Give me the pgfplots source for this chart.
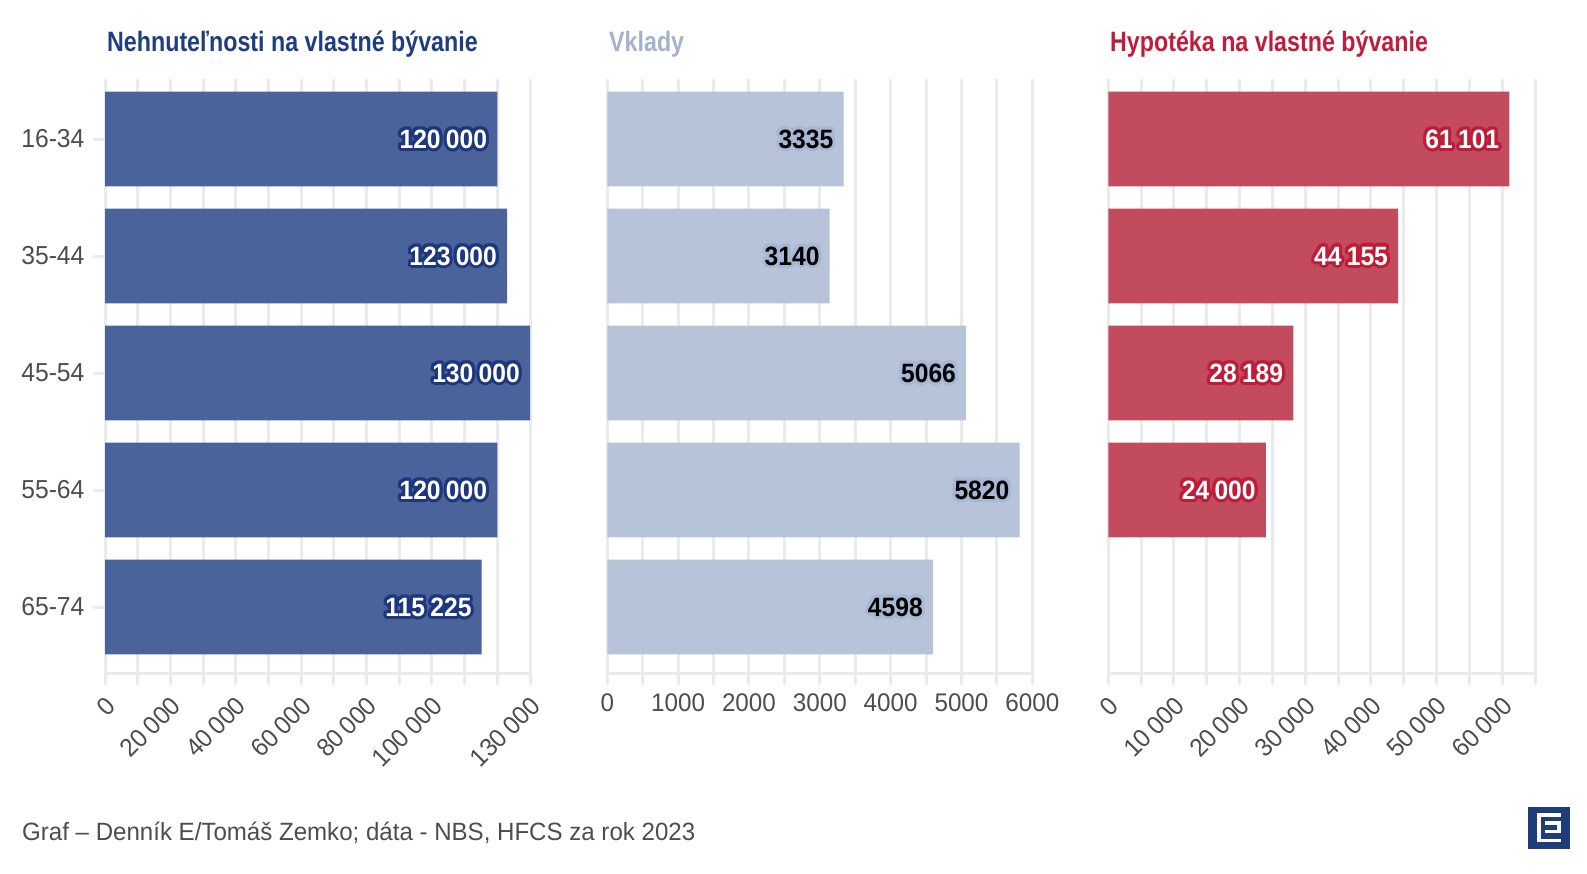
\documentclass[border=0pt]{standalone}
\usepackage{pgfplots}
\pgfplotsset{compat=1.18}
\usepackage{pgfplotstable}
\usepackage{fontspec}
\setmainfont[FakeStretch=0.95]{Liberation Sans}
\newfontfamily\footfont[FakeStretch=0.963]{Liberation Sans}
\newfontfamily\condfont[FakeStretch=0.83]{Liberation Sans}
\newfontfamily\valfontfam[FakeStretch=0.93]{Liberation Sans}

\definecolor{barA}{RGB}{74,99,154}
\definecolor{titleA}{RGB}{31,62,130}
\definecolor{haloA}{RGB}{28,55,125}
\definecolor{barB}{RGB}{183,195,216}
\definecolor{titleB}{RGB}{163,178,207}
\definecolor{haloB}{RGB}{168,183,212}
\definecolor{barC}{RGB}{194,75,93}
\definecolor{titleC}{RGB}{190,30,60}
\definecolor{haloC}{RGB}{190,28,55}
\definecolor{gridgray}{RGB}{235,235,235}
\definecolor{labgray}{RGB}{77,77,77}
\definecolor{logoblue}{RGB}{31,61,122}

\newcommand\hcopy[3]{\rlap{\kern#1\raise#2\hbox{#3}}}
\newcommand\halo[3]{{\leavevmode\color{#1}%
\hcopy{3.1pt}{0pt}{#3}\hcopy{2.86pt}{1.19pt}{#3}\hcopy{2.19pt}{2.19pt}{#3}\hcopy{1.19pt}{2.86pt}{#3}%
\hcopy{0pt}{3.1pt}{#3}\hcopy{-1.19pt}{2.86pt}{#3}\hcopy{-2.19pt}{2.19pt}{#3}\hcopy{-2.86pt}{1.19pt}{#3}%
\hcopy{-3.1pt}{0pt}{#3}\hcopy{-2.86pt}{-1.19pt}{#3}\hcopy{-2.19pt}{-2.19pt}{#3}\hcopy{-1.19pt}{-2.86pt}{#3}%
\hcopy{0pt}{-3.1pt}{#3}\hcopy{1.19pt}{-2.86pt}{#3}\hcopy{2.19pt}{-2.19pt}{#3}\hcopy{2.86pt}{-1.19pt}{#3}%
\hcopy{1.5pt}{0pt}{#3}\hcopy{-1.5pt}{0pt}{#3}\hcopy{0pt}{1.5pt}{#3}\hcopy{0pt}{-1.5pt}{#3}%
\hcopy{1.1pt}{1.1pt}{#3}\hcopy{-1.1pt}{1.1pt}{#3}\hcopy{1.1pt}{-1.1pt}{#3}\hcopy{-1.1pt}{-1.1pt}{#3}%
\color{#2}#3}}

\pgfplotstableread{
y v
0 120000
1 123000
2 130000
3 120000
4 115225
}\dataA
\pgfplotstableread{
y v
0 3335
1 3140
2 5066
3 5820
4 4598
}\dataB
\pgfplotstableread{
y v
0 61101
1 44155
2 28189
3 24000
}\dataC

\pgfplotsset{
  panel/.style={
    scale only axis, height=594pt,
    xbar, bar width=0.81,
    y dir=reverse, ymin=-0.513, ymax=4.564,
    xmin=0, enlargelimits=false,
    axis x line*=bottom, axis y line*=left,
    y axis line style={draw=none},
    x axis line style={draw=gridgray, line width=3pt, -},
    xmajorgrids, xminorgrids,
    major grid style={draw=gridgray, line width=3pt},
    minor grid style={draw=gridgray, line width=3pt},
    tick align=outside,
    major tick length=12pt, minor tick length=12pt,
    tick style={draw=gridgray, line width=3pt},
    ticklabel style={font=\fontsize{25.5}{30}\selectfont, text=labgray},
    scaled x ticks=false,
    /pgf/number format/fixed,
    /pgf/number format/precision=0,
    /pgf/number format/assume math mode=true,
    /pgf/number format/1000 sep={\hspace{0.2em}},
    point meta=x,
    every node near coord/.append style={anchor=east, inner sep=0pt, xshift=-10pt},
  },
  rotlab/.style={xticklabel style={xshift=8pt, yshift=-14pt, rotate=45, anchor=east}},
}

\begin{document}
\begin{tikzpicture}
\useasboundingbox (0pt,0pt) rectangle (1587pt,-874pt);

% Panel 1
\begin{axis}[panel, rotlab, at={(105pt,-673pt)}, anchor=south west, width=425pt,
  xmax=130000,
  xtick={0,20000,40000,60000,80000,100000,130000},
  minor xtick={10000,30000,50000,70000,90000,110000,120000},
  ytick={0,1,2,3,4},
  yticklabels={16-34,35-44,45-54,55-64,65-74},
  yticklabel style={xshift=-5pt, font=\fontsize{26}{30}\selectfont},
  nodes near coords={\valfontfam\bfseries\fontsize{26.5}{30}\selectfont\halo{haloA}{white}{\pgfmathprintnumber{\pgfplotspointmeta}}},
]
\addplot[fill=barA, draw=none] table[x=v, y=y]{\dataA};
\end{axis}

% Panel 2
\begin{axis}[panel, at={(607.3pt,-673pt)}, anchor=south west, width=425pt,
  xmax=6000,
  xtick={0,1000,...,6000},
  minor xtick={500,1500,...,5500},
  xticklabel style={anchor=north, yshift=-5pt},
  ytick=\empty,
  /pgf/number format/1000 sep={},
  nodes near coords={\valfontfam\bfseries\fontsize{26.5}{30}\selectfont\halo{haloB}{black}{\pgfmathprintnumber{\pgfplotspointmeta}}},
]
\addplot[fill=barB, draw=none] table[x=v, y=y]{\dataB};
\end{axis}

% Panel 3
\begin{axis}[panel, rotlab, at={(1108.3pt,-673pt)}, anchor=south west, width=426.7pt,
  xmax=65000,
  xtick={0,10000,...,60000},
  minor xtick={5000,15000,...,65000},
  ytick=\empty,
  nodes near coords={\valfontfam\bfseries\fontsize{26.5}{30}\selectfont\halo{haloC}{white}{\pgfmathprintnumber{\pgfplotspointmeta}}},
]
\addplot[fill=barC, draw=none] table[x=v, y=y]{\dataC};
\end{axis}

% Titles
\node[anchor=base west, inner sep=0pt, text=titleA, font=\condfont\bfseries\fontsize{28}{32}\selectfont] at (107pt,-52pt) {Nehnuteľnosti na vlastné bývanie};
\node[anchor=base west, inner sep=0pt, text=titleB, font=\condfont\bfseries\fontsize{28}{32}\selectfont] at (609pt,-52pt) {Vklady};
\node[anchor=base west, inner sep=0pt, text=titleC, font=\condfont\bfseries\fontsize{28}{32}\selectfont] at (1110pt,-52pt) {Hypotéka na vlastné bývanie};

% Footer
\node[anchor=base west, inner sep=0pt, text=labgray, font=\footfont\fontsize{25}{30}\selectfont] at (22pt,-840pt) {Graf – Denník E/Tomáš Zemko; dáta - NBS, HFCS za rok 2023};

% Logo
\fill[logoblue] (1527.7pt,-806.7pt) rectangle (1570pt,-849pt);
\draw[white, line width=3.3pt] (1560.7pt,-815pt) -- (1539pt,-815pt) -- (1539pt,-840.3pt) -- (1560.7pt,-840.3pt);
\draw[white, line width=3.3pt] (1545pt,-823pt) -- (1559pt,-823pt) -- (1559pt,-831.3pt) -- (1545pt,-831.3pt);
\end{tikzpicture}
\end{document}
